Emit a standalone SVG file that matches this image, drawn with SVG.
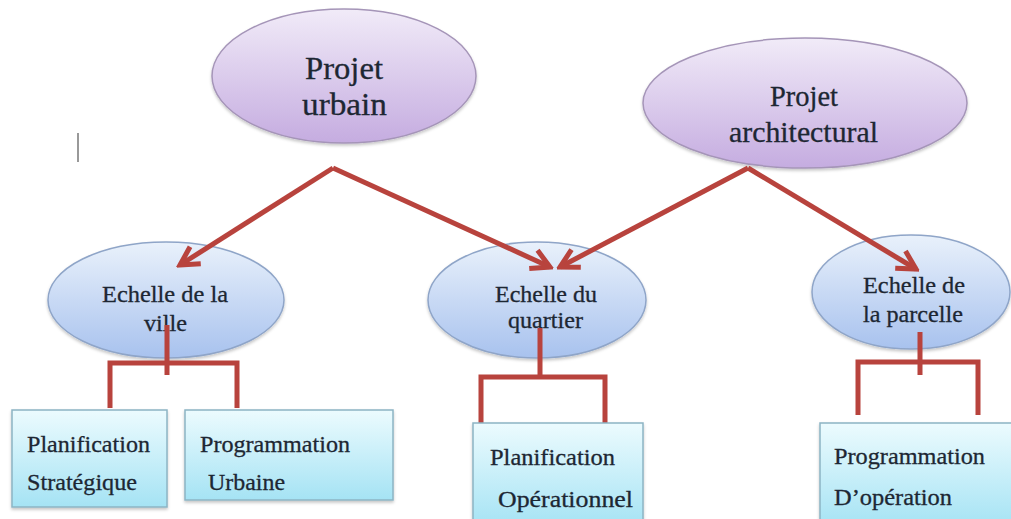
<svg xmlns="http://www.w3.org/2000/svg" width="1011" height="519" viewBox="0 0 1011 519">
<defs>
<linearGradient id="gPurple" x1="0" y1="0" x2="0" y2="1">
<stop offset="0" stop-color="#f1ebf8"/>
<stop offset="1" stop-color="#c5ace0"/>
</linearGradient>
<linearGradient id="gBlue" x1="0" y1="0" x2="0" y2="1">
<stop offset="0" stop-color="#e9f1fb"/>
<stop offset="1" stop-color="#a8c2ee"/>
</linearGradient>
<linearGradient id="gCyan" x1="0" y1="0" x2="0" y2="1">
<stop offset="0" stop-color="#ecfbfe"/>
<stop offset="1" stop-color="#a5e3f4"/>
</linearGradient>
<marker id="arr" viewBox="0 0 10 10" refX="8.5" refY="5" markerWidth="5" markerHeight="5" orient="auto" markerUnits="strokeWidth">
<path d="M1.2,1 L8.5,5 L1.2,9" fill="none" stroke="#b8433d" stroke-width="2" stroke-linejoin="miter"/>
</marker>
<filter id="sh" x="-10%" y="-10%" width="120%" height="130%">
<feDropShadow dx="0" dy="2" stdDeviation="1.5" flood-color="#000" flood-opacity="0.22"/>
</filter>
</defs>
<style>
.pe{fill:url(#gPurple);stroke:#a595b8;stroke-width:1.5;filter:url(#sh)}
.be{fill:url(#gBlue);stroke:#8fa5c8;stroke-width:1.5;filter:url(#sh)}
.bx{fill:url(#gCyan);stroke:#8cb4c4;stroke-width:1.5;filter:url(#sh)}
text{font-family:"Liberation Serif","Times New Roman","DejaVu Serif",serif;fill:#1d2733;stroke:#1d2733;stroke-width:0.3}
.con{fill:none;stroke:#b8433d;stroke-width:5}
.arrow{fill:none;stroke:#b8433d;stroke-width:5;marker-end:url(#arr)}
</style>
<rect width="1011" height="519" fill="#ffffff"/>
<line x1="78" y1="133" x2="78" y2="162" stroke="#777" stroke-width="1.5"/>

<g id="projet-urbain">
<ellipse class="pe" cx="344" cy="76" rx="132" ry="67"/>
<text x="305" y="79" font-size="32" textLength="78" lengthAdjust="spacingAndGlyphs">Projet</text>
<text x="302" y="115" font-size="32" textLength="85" lengthAdjust="spacingAndGlyphs">urbain</text>
</g>

<g id="projet-architectural">
<ellipse class="pe" cx="805" cy="103" rx="162" ry="65"/>
<text x="770" y="106" font-size="29" textLength="68" lengthAdjust="spacingAndGlyphs">Projet</text>
<text x="729" y="142" font-size="29" textLength="149" lengthAdjust="spacingAndGlyphs">architectural</text>
</g>

<g id="echelle-ville">
<ellipse class="be" cx="166" cy="300" rx="118" ry="58"/>
<text x="102" y="302" font-size="24" textLength="126" lengthAdjust="spacingAndGlyphs">Echelle de la</text>
<text x="144" y="331" font-size="24" textLength="43" lengthAdjust="spacingAndGlyphs">ville</text>
</g>

<g id="echelle-quartier">
<ellipse class="be" cx="537" cy="300" rx="109" ry="58"/>
<text x="495" y="302" font-size="24" textLength="102" lengthAdjust="spacingAndGlyphs">Echelle du</text>
<text x="508" y="328" font-size="24" textLength="75" lengthAdjust="spacingAndGlyphs">quartier</text>
</g>

<g id="echelle-parcelle">
<ellipse class="be" cx="911" cy="292" rx="99" ry="57"/>
<text x="863" y="293" font-size="24" textLength="102" lengthAdjust="spacingAndGlyphs">Echelle de</text>
<text x="863" y="322" font-size="24" textLength="100" lengthAdjust="spacingAndGlyphs">la parcelle</text>
</g>

<g id="connectors">
<line class="arrow" x1="333" y1="168" x2="180" y2="265"/>
<line class="arrow" x1="333" y1="168" x2="550" y2="267"/>
<line class="arrow" x1="748" y1="168" x2="560" y2="267"/>
<line class="arrow" x1="748" y1="168" x2="916" y2="269"/>
<path class="con" d="M167,325 V375 M110,408 V363 H237 V408"/>
<path class="con" d="M540,328 V377 M481,423 V377 H605 V423"/>
<path class="con" d="M920,332 V375 M858,415 V362 H978 V415"/>
</g>

<g id="planification-strategique">
<rect class="bx" x="12" y="410" width="155" height="97"/>
<text x="27" y="452" font-size="24" textLength="123" lengthAdjust="spacingAndGlyphs">Planification</text>
<text x="27" y="490" font-size="24" textLength="110" lengthAdjust="spacingAndGlyphs">Stratégique</text>
</g>

<g id="programmation-urbaine">
<rect class="bx" x="185" y="410" width="208" height="90"/>
<text x="200" y="452" font-size="24" textLength="150" lengthAdjust="spacingAndGlyphs">Programmation</text>
<text x="208" y="490" font-size="24" textLength="77" lengthAdjust="spacingAndGlyphs">Urbaine</text>
</g>

<g id="planification-operationnel">
<rect class="bx" x="473" y="423" width="170" height="104"/>
<text x="490" y="465" font-size="24" textLength="125" lengthAdjust="spacingAndGlyphs">Planification</text>
<text x="498" y="507" font-size="24" textLength="135" lengthAdjust="spacingAndGlyphs">Opérationnel</text>
</g>

<g id="programmation-operation">
<rect class="bx" x="820" y="423" width="200" height="104"/>
<text x="834" y="464" font-size="24" textLength="151" lengthAdjust="spacingAndGlyphs">Programmation</text>
<text x="834" y="505" font-size="24" textLength="118" lengthAdjust="spacingAndGlyphs">D’opération</text>
</g>
</svg>
